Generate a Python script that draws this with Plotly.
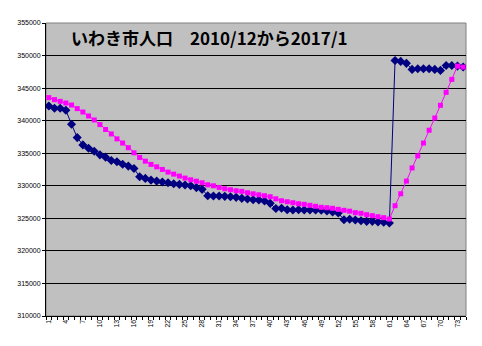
import plotly.graph_objects as go

months = list(range(1, 75))

actual = [342250, 341900, 341900, 341600, 339450, 337400, 336280, 335770, 335310, 334750,
          334400, 333890, 333680, 333300, 333020, 332660, 331380, 331130, 330870, 330720,
          330570, 330460, 330310, 330210, 330110, 330000, 329720, 329450, 328470, 328420,
          328420, 328380, 328320, 328220, 328070, 327960, 327860, 327810, 327660, 327300,
          326500, 326540, 326320, 326280, 326320, 326280, 326280, 326280, 326230, 326120,
          325970, 325820, 324790, 324850, 324750, 324640, 324540, 324540, 324440, 324390,
          324290, 349250, 349100, 348800, 347870, 347970, 347970, 347970, 347870, 347720,
          348480, 348480, 348380, 348250]

trend = [343540, 343230, 342970, 342710, 342400, 341850, 341330, 340720, 340110, 339400,
         338640, 337960, 337200, 336560, 335850, 335060, 334350, 333780, 333280, 332910,
         332510, 332100, 331790, 331490, 331180, 330920, 330700, 330460, 330150, 330000,
         329750, 329540, 329390, 329230, 329140, 328930, 328770, 328620, 328470, 328320,
         328000, 327700, 327550, 327400, 327240, 327150, 327000, 326850, 326690, 326630,
         326540, 326380, 326230, 326100, 325870, 325770, 325560, 325410, 325250, 325100,
         324900, 326940, 328770, 330720, 332740, 334600, 336560, 338530, 340410, 342360,
         344350, 346340, 348380, 348230]

x_tick_vals = list(range(1, 75, 3))
x_tick_text = [str(v) for v in x_tick_vals]
y_tick_vals = list(range(310000, 355001, 5000))
y_tick_text = [str(v) for v in y_tick_vals]

title_text = "いわき市人口　2010/12から2017/1"

fig = go.Figure()
fig.add_trace(go.Scatter(
    x=months, y=actual, mode="lines+markers",
    line=dict(color="#000080", width=1),
    marker=dict(symbol="diamond", size=7, color="#000080"),
    showlegend=False,
))
fig.add_trace(go.Scatter(
    x=months, y=trend, mode="lines+markers",
    line=dict(color="#FF00FF", width=1),
    marker=dict(symbol="square", size=5, color="#FF00FF"),
    showlegend=False,
))

fig.update_layout(
    width=482, height=346,
    margin=dict(l=46, r=16, t=23, b=30),
    paper_bgcolor="white",
    plot_bgcolor="#C0C0C0",
    font=dict(family="Liberation Sans, Arial", size=7, color="black"),
    annotations=[dict(
        text="<b>" + title_text + "</b>",
        xref="paper", yref="paper", x=0.055, y=0.951,
        xanchor="left", yanchor="middle", showarrow=False,
        font=dict(family="Noto Sans CJK JP", size=17, color="black"),
    )],
    shapes=[dict(
        type="rect", xref="paper", yref="paper", x0=0, y0=0, x1=1, y1=1,
        line=dict(color="#808080", width=1), layer="below",
    )],
)

fig.update_xaxes(
    range=[0.5, 74.5],
    tickmode="array", tickvals=x_tick_vals, ticktext=x_tick_text,
    tickangle=-90, ticks="",
    showgrid=False, zeroline=False,
    showline=True, linecolor="black", linewidth=1,
    minor=dict(tick0=0.5, dtick=1, ticks="outside", ticklen=3,
               tickcolor="black", showgrid=False),
    tickfont=dict(size=7),
)
fig.update_yaxes(
    range=[310000, 355000],
    tickmode="array", tickvals=y_tick_vals, ticktext=y_tick_text,
    ticks="outside", ticklen=3, tickcolor="black",
    showgrid=True, gridcolor="black", gridwidth=1,
    zeroline=False,
    showline=True, linecolor="black", linewidth=1,
    tickfont=dict(size=7),
)

fig.write_html("out.html")
